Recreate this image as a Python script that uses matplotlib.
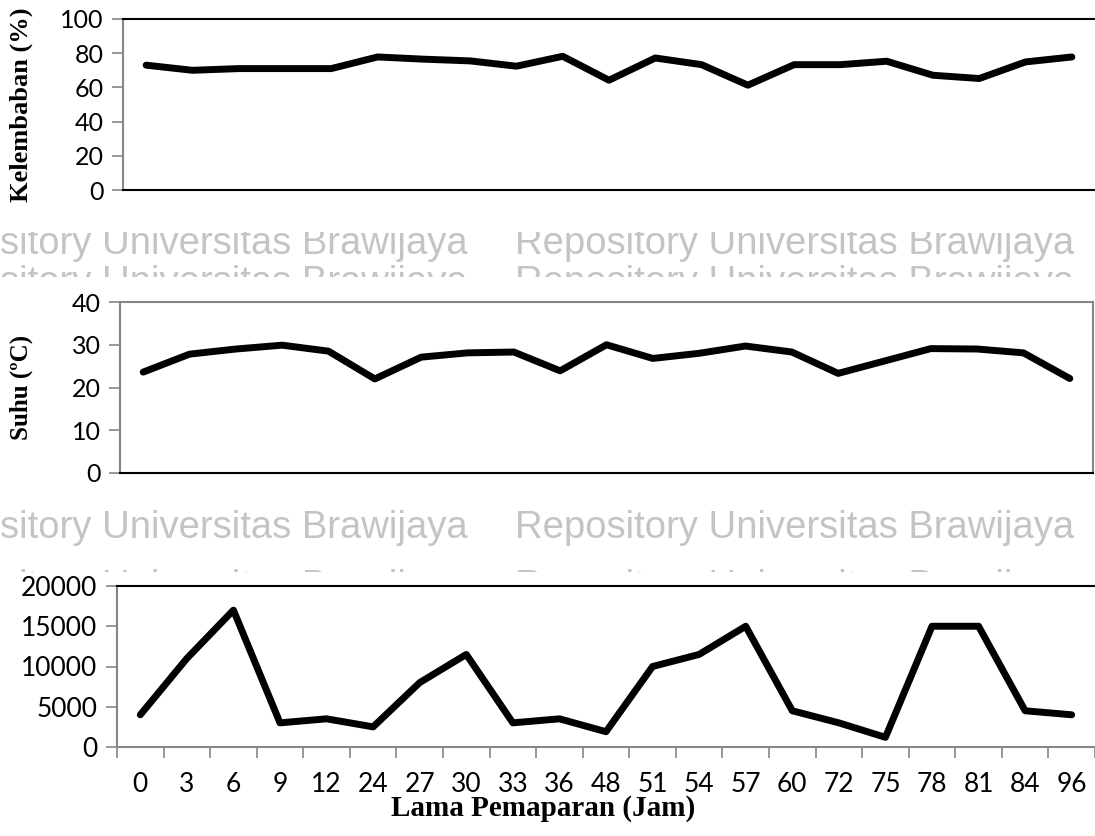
import matplotlib.pyplot as plt
import numpy as np

# Data
jam = ['0', '3', '6', '9', '12', '24', '27', '30', '33', '36', '48',
       '51', '54', '57', '60', '72', '75', '78', '81', '84', '96']
kelembaban = [73, 70, 71, 71, 71, 77.8, 76.5, 75.5, 72.4, 78.2, 64.2,
              77.2, 73.3, 61.3, 73.3, 73.3, 75.3, 67.1, 65.2, 74.9, 77.8]
suhu = [23.6, 27.8, 29.0, 29.9, 28.5, 22.0, 27.1, 28.1, 28.3, 23.9, 30.0,
        26.8, 28.0, 29.7, 28.3, 23.3, 26.2, 29.1, 29.0, 28.1, 22.1]
cahaya = [4000, 11000, 17000, 3000, 3500, 2500, 8000, 11500, 3000, 3500, 1900,
          10000, 11500, 15000, 4500, 3000, 1200, 15000, 15000, 4500, 4000]

W, H = 1095, 836
fig = plt.figure(figsize=(W / 100, H / 100), dpi=100)

tick_font = 'Lato'
label_font = 'Liberation Serif'
gray = '#868686'
x = np.arange(len(jam))


def make_ax(left, top, right, bottom):
    return fig.add_axes([left / W, 1 - bottom / H, (right - left) / W, (bottom - top) / H])


def style_y(ax, ymax, step, fs):
    ax.set_ylim(0, ymax)
    ax.set_yticks(np.arange(0, ymax + 1, step))
    ax.tick_params(axis='y', direction='out', length=8, color=gray, width=1.2,
                   labelsize=fs, pad=6)
    for t in ax.get_yticklabels():
        t.set_fontfamily(tick_font)
    ax.set_xlim(-0.5, len(jam) - 0.5)


def plot_line(ax, y):
    ax.plot(x, y, color='black', linewidth=5, solid_joinstyle='round',
            solid_capstyle='round')


# Kelembaban
ax1 = make_ax(123, 19, 1095, 190)
plot_line(ax1, kelembaban)
style_y(ax1, 100, 20, 18)
ax1.set_xticks([])
ax1.spines['right'].set_visible(False)
ax1.spines['left'].set_color(gray)
ax1.spines['left'].set_linewidth(1.5)
ax1.spines['top'].set_linewidth(1.5)
ax1.spines['bottom'].set_linewidth(1.5)
ax1.set_ylabel('Kelembaban (%)', fontfamily=label_font, fontweight='bold', fontsize=19)
ax1.yaxis.set_label_coords((33 - 123) / 972, 0.5)

# Suhu
ax2 = make_ax(120, 302, 1093, 473)
plot_line(ax2, suhu)
style_y(ax2, 40, 10, 18)
ax2.set_xticks([])
for s in ['left', 'top', 'right']:
    ax2.spines[s].set_color(gray)
    ax2.spines[s].set_linewidth(1.5)
ax2.spines['bottom'].set_linewidth(1.5)
ax2.set_ylabel('Suhu (ºC)', fontfamily=label_font, fontweight='bold', fontsize=18)
ax2.yaxis.set_label_coords((33 - 120) / 973, 0.5)

# Cahaya
ax3 = make_ax(117, 586, 1095, 747)
plot_line(ax3, cahaya)
style_y(ax3, 20000, 5000, 19)
ax3.set_xticks(np.arange(-0.5, len(jam), 1.0))
ax3.set_xticklabels([])
ax3.set_xticks(x, minor=True)
ax3.set_xticklabels(jam, minor=True, fontfamily=tick_font, fontsize=19)
ax3.tick_params(axis='x', which='major', direction='out', length=8, color=gray, width=1.2)
ax3.tick_params(axis='x', which='minor', length=0, pad=18)
ax3.spines['right'].set_visible(False)
ax3.spines['left'].set_color(gray)
ax3.spines['bottom'].set_color(gray)
ax3.spines['left'].set_linewidth(1.5)
ax3.spines['bottom'].set_linewidth(1.5)
ax3.spines['top'].set_linewidth(1.5)
ax3.set_xlabel('Lama Pemaparan (Jam)', fontfamily=label_font, fontweight='bold',
               fontsize=21)
ax3.xaxis.set_label_coords((543 - 117) / 978, (747 - 795) / 161)

# Watermark strips between the panels (clipped like the scanned page)
wm_left = 'sitory Universitas Brawijaya'
wm_right = 'Repository Universitas Brawijaya'
wm_color = '#c4c4c4'
strips = [(232, 277, 254, 293), (500, 572, 538, 597)]
for top, bottom, base1, base2 in strips:
    wax = make_ax(0, top, W, bottom)
    wax.set_axis_off()
    wax.set_xlim(0, W)
    wax.set_ylim(bottom, top)
    for base in (base1, base2):
        wax.text(0, base, wm_left, fontfamily='Liberation Sans', fontsize=27.5,
                 color=wm_color, va='baseline', ha='left', clip_on=True)
        wax.text(515, base, wm_right, fontfamily='Liberation Sans', fontsize=27.5,
                 color=wm_color, va='baseline', ha='left', clip_on=True)

fig.savefig('out.png', dpi=100)
